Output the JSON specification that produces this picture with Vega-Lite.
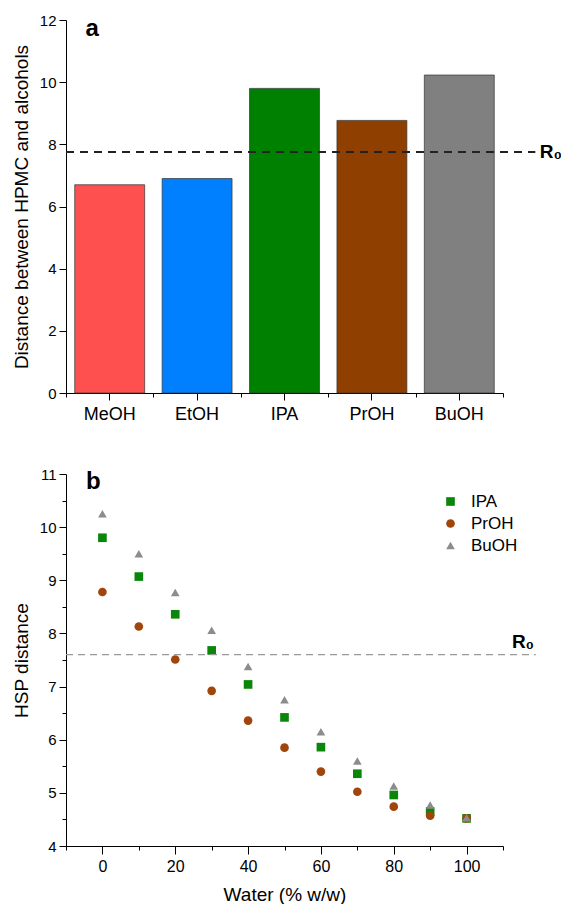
{
  "$schema": "https://vega.github.io/schema/vega-lite/v6.json",
  "padding": {"left": 12, "top": 13, "right": 0, "bottom": 0},
  "spacing": 44,
  "resolve": {
    "scale": {"color": "independent", "shape": "independent"},
    "legend": {"color": "independent", "shape": "independent"}
  },
  "config": {
    "view": {"stroke": null},
    "font": "Liberation Sans",
    "axis": {
      "domainColor": "#000",
      "tickColor": "#000",
      "labelColor": "#000",
      "titleColor": "#000",
      "grid": false,
      "titleFontWeight": "normal",
      "labelFont": "Liberation Sans",
      "titleFont": "Liberation Sans",
      "domainWidth": 1,
      "tickWidth": 1,
      "labelOverlap": false
    }
  },
  "vconcat": [
    {
      "width": 437,
      "height": 373,
      "layer": [
        {
          "data": {"values": [
            {"alcohol": "MeOH", "distance": 6.7},
            {"alcohol": "EtOH", "distance": 6.9},
            {"alcohol": "IPA", "distance": 9.8},
            {"alcohol": "PrOH", "distance": 8.77},
            {"alcohol": "BuOH", "distance": 10.23}
          ]},
          "mark": {"type": "bar", "stroke": "#333", "strokeWidth": 1, "strokeOpacity": 0.7},
          "encoding": {
            "x": {
              "field": "alcohol", "type": "nominal", "sort": null,
              "scale": {"paddingInner": 0.2, "paddingOuter": 0.1},
              "axis": {"title": null, "labelAngle": 0, "labelFontSize": 18, "tickSize": 7, "labelPadding": 5, "orient": "bottom"}
            },
            "y": {
              "field": "distance", "type": "quantitative",
              "title": "Distance between HPMC and alcohols",
              "scale": {"domain": [0, 12], "nice": false},
              "axis": {
                "titleFontSize": 19,
                "titlePadding": 8,
                "values": [0, 1, 2, 3, 4, 5, 6, 7, 8, 9, 10, 11, 12],
                "labelExpr": "datum.value % 2 === 0 ? datum.label : ''",
                "labelOverlap": false,
                "labelFontSize": 15,
                "labelPadding": 3,
                "tickSize": {"condition": {"test": "datum.value % 2 === 0", "value": 7}, "value": 4}
              }
            },
            "color": {
              "field": "alcohol", "type": "nominal", "sort": null,
              "scale": {"domain": ["MeOH", "EtOH", "IPA", "PrOH", "BuOH"], "range": ["#FF5050", "#0080FF", "#008000", "#8F3F00", "#808080"]},
              "legend": null
            }
          }
        },
        {
          "data": {"values": [{"label": "R₀", "value": 7.75}]},
          "mark": {"type": "rule", "strokeDash": [8, 6], "strokeWidth": 2, "color": "#222"},
          "encoding": {
            "x": {
              "datum": 0, "type": "quantitative",
              "scale": {"domain": [0, 5], "nice": false, "zero": false},
              "axis": {"orient": "bottom", "values": [0, 1, 2, 3, 4, 5], "labels": false, "tickSize": 4, "domain": false, "title": null}
            },
            "x2": {"datum": 5.37},
            "y": {"field": "value", "type": "quantitative", "title": "Distance between HPMC and alcohols"}
          }
        },
        {
          "data": {"values": [{"label": "R₀", "value": 7.75}]},
          "mark": {"type": "text", "fontWeight": "bold", "fontSize": 19, "align": "left", "baseline": "middle", "color": "#000"},
          "encoding": {
            "x": {"datum": 5.42, "type": "quantitative", "scale": {"domain": [0, 5], "nice": false, "zero": false}, "axis": null},
            "y": {"field": "value", "type": "quantitative", "title": "Distance between HPMC and alcohols"},
            "text": {"field": "label"}
          }
        },
        {
          "data": {"values": [{"label": "a", "value": 11.7}]},
          "mark": {"type": "text", "fontWeight": "bold", "fontSize": 24, "align": "center", "baseline": "middle", "color": "#000"},
          "encoding": {
            "x": {"datum": 0.3, "type": "quantitative", "scale": {"domain": [0, 5], "nice": false, "zero": false}, "axis": null},
            "y": {"field": "value", "type": "quantitative", "title": "Distance between HPMC and alcohols"},
            "text": {"field": "label"}
          }
        }
      ],
      "resolve": {"scale": {"x": "independent"}, "axis": {"x": "independent"}}
    },
    {
      "width": 437,
      "height": 372,
      "encoding": {
        "x": {
          "type": "quantitative",
          "title": "Water (% w/w)",
          "scale": {"domain": [-10, 110], "nice": false, "zero": false},
          "axis": {
            "titleFontSize": 19,
            "titlePadding": 11,
            "values": [-10, 0, 10, 20, 30, 40, 50, 60, 70, 80, 90, 100, 110],
            "labelExpr": "datum.value % 20 === 0 ? format(datum.value, 'd') : ''",
            "labelOverlap": false,
            "labelFontSize": 16,
            "labelPadding": 4,
            "tickSize": {"condition": {"test": "datum.value % 20 === 0", "value": 8}, "value": 4}
          }
        },
        "y": {
          "type": "quantitative",
          "title": "HSP distance",
          "scale": {"domain": [4, 11], "nice": false, "zero": false},
          "axis": {
            "titleFontSize": 19,
            "titlePadding": 8,
            "values": [4, 4.5, 5, 5.5, 6, 6.5, 7, 7.5, 8, 8.5, 9, 9.5, 10, 10.5, 11],
            "labelExpr": "datum.value % 1 === 0 ? format(datum.value, 'd') : ''",
            "labelOverlap": false,
            "labelFontSize": 15,
            "labelPadding": 3,
            "tickSize": {"condition": {"test": "datum.value % 1 === 0", "value": 7}, "value": 4}
          }
        }
      },
      "layer": [
        {
          "data": {"values": [
            {"water": 0, "solvent": "IPA", "distance": 9.8},
            {"water": 10, "solvent": "IPA", "distance": 9.07},
            {"water": 20, "solvent": "IPA", "distance": 8.36},
            {"water": 30, "solvent": "IPA", "distance": 7.68},
            {"water": 40, "solvent": "IPA", "distance": 7.04},
            {"water": 50, "solvent": "IPA", "distance": 6.42},
            {"water": 60, "solvent": "IPA", "distance": 5.86},
            {"water": 70, "solvent": "IPA", "distance": 5.36},
            {"water": 80, "solvent": "IPA", "distance": 4.96},
            {"water": 90, "solvent": "IPA", "distance": 4.65},
            {"water": 100, "solvent": "IPA", "distance": 4.52},
            {"water": 0, "solvent": "PrOH", "distance": 8.78},
            {"water": 10, "solvent": "PrOH", "distance": 8.13},
            {"water": 20, "solvent": "PrOH", "distance": 7.51},
            {"water": 30, "solvent": "PrOH", "distance": 6.92},
            {"water": 40, "solvent": "PrOH", "distance": 6.36},
            {"water": 50, "solvent": "PrOH", "distance": 5.85},
            {"water": 60, "solvent": "PrOH", "distance": 5.4},
            {"water": 70, "solvent": "PrOH", "distance": 5.02},
            {"water": 80, "solvent": "PrOH", "distance": 4.74},
            {"water": 90, "solvent": "PrOH", "distance": 4.57},
            {"water": 100, "solvent": "PrOH", "distance": 4.52},
            {"water": 0, "solvent": "BuOH", "distance": 10.25},
            {"water": 10, "solvent": "BuOH", "distance": 9.5},
            {"water": 20, "solvent": "BuOH", "distance": 8.77},
            {"water": 30, "solvent": "BuOH", "distance": 8.06},
            {"water": 40, "solvent": "BuOH", "distance": 7.38},
            {"water": 50, "solvent": "BuOH", "distance": 6.75},
            {"water": 60, "solvent": "BuOH", "distance": 6.15},
            {"water": 70, "solvent": "BuOH", "distance": 5.6},
            {"water": 80, "solvent": "BuOH", "distance": 5.13},
            {"water": 90, "solvent": "BuOH", "distance": 4.77},
            {"water": 100, "solvent": "BuOH", "distance": 4.53}
          ]},
          "mark": {"type": "point", "filled": true, "opacity": 1, "size": 75},
          "encoding": {
            "x": {"field": "water"},
            "y": {"field": "distance"},
            "shape": {
              "field": "solvent", "type": "nominal", "sort": null,
              "scale": {"domain": ["IPA", "PrOH", "BuOH"], "range": ["square", "circle", "triangle-up"]},
              "legend": {"orient": "none", "legendX": 376, "legendY": 19, "title": null, "labelFontSize": 17, "labelColor": "#000", "symbolSize": 75, "labelOffset": 12, "rowPadding": 4, "padding": 0}
            },
            "color": {
              "field": "solvent", "type": "nominal", "sort": null,
              "scale": {"domain": ["IPA", "PrOH", "BuOH"], "range": ["#0A870A", "#A0460C", "#8C8C8C"]},
              "legend": {"orient": "none", "legendX": 376, "legendY": 19, "title": null, "labelFontSize": 17, "labelColor": "#000", "symbolSize": 75, "labelOffset": 12, "rowPadding": 4, "padding": 0}
            }
          }
        },
        {
          "data": {"values": [{"label": "R₀", "value": 7.6}]},
          "mark": {"type": "rule", "strokeDash": [7, 5], "strokeWidth": 1.2, "color": "#999"},
          "encoding": {
            "x": {"datum": -10},
            "x2": {"datum": 119},
            "y": {"field": "value"}
          }
        },
        {
          "data": {"values": [{"label": "R₀", "value": 7.6}]},
          "mark": {"type": "text", "fontWeight": "bold", "fontSize": 19, "align": "center", "baseline": "bottom", "dy": -3, "color": "#000"},
          "encoding": {
            "x": {"datum": 115.5},
            "y": {"field": "value"},
            "text": {"field": "label"}
          }
        },
        {
          "data": {"values": [{"label": "b", "value": 10.85}]},
          "mark": {"type": "text", "fontWeight": "bold", "fontSize": 24, "align": "center", "baseline": "middle", "color": "#000"},
          "encoding": {
            "x": {"datum": -2.5},
            "y": {"field": "value"},
            "text": {"field": "label"}
          }
        }
      ]
    }
  ]
}
